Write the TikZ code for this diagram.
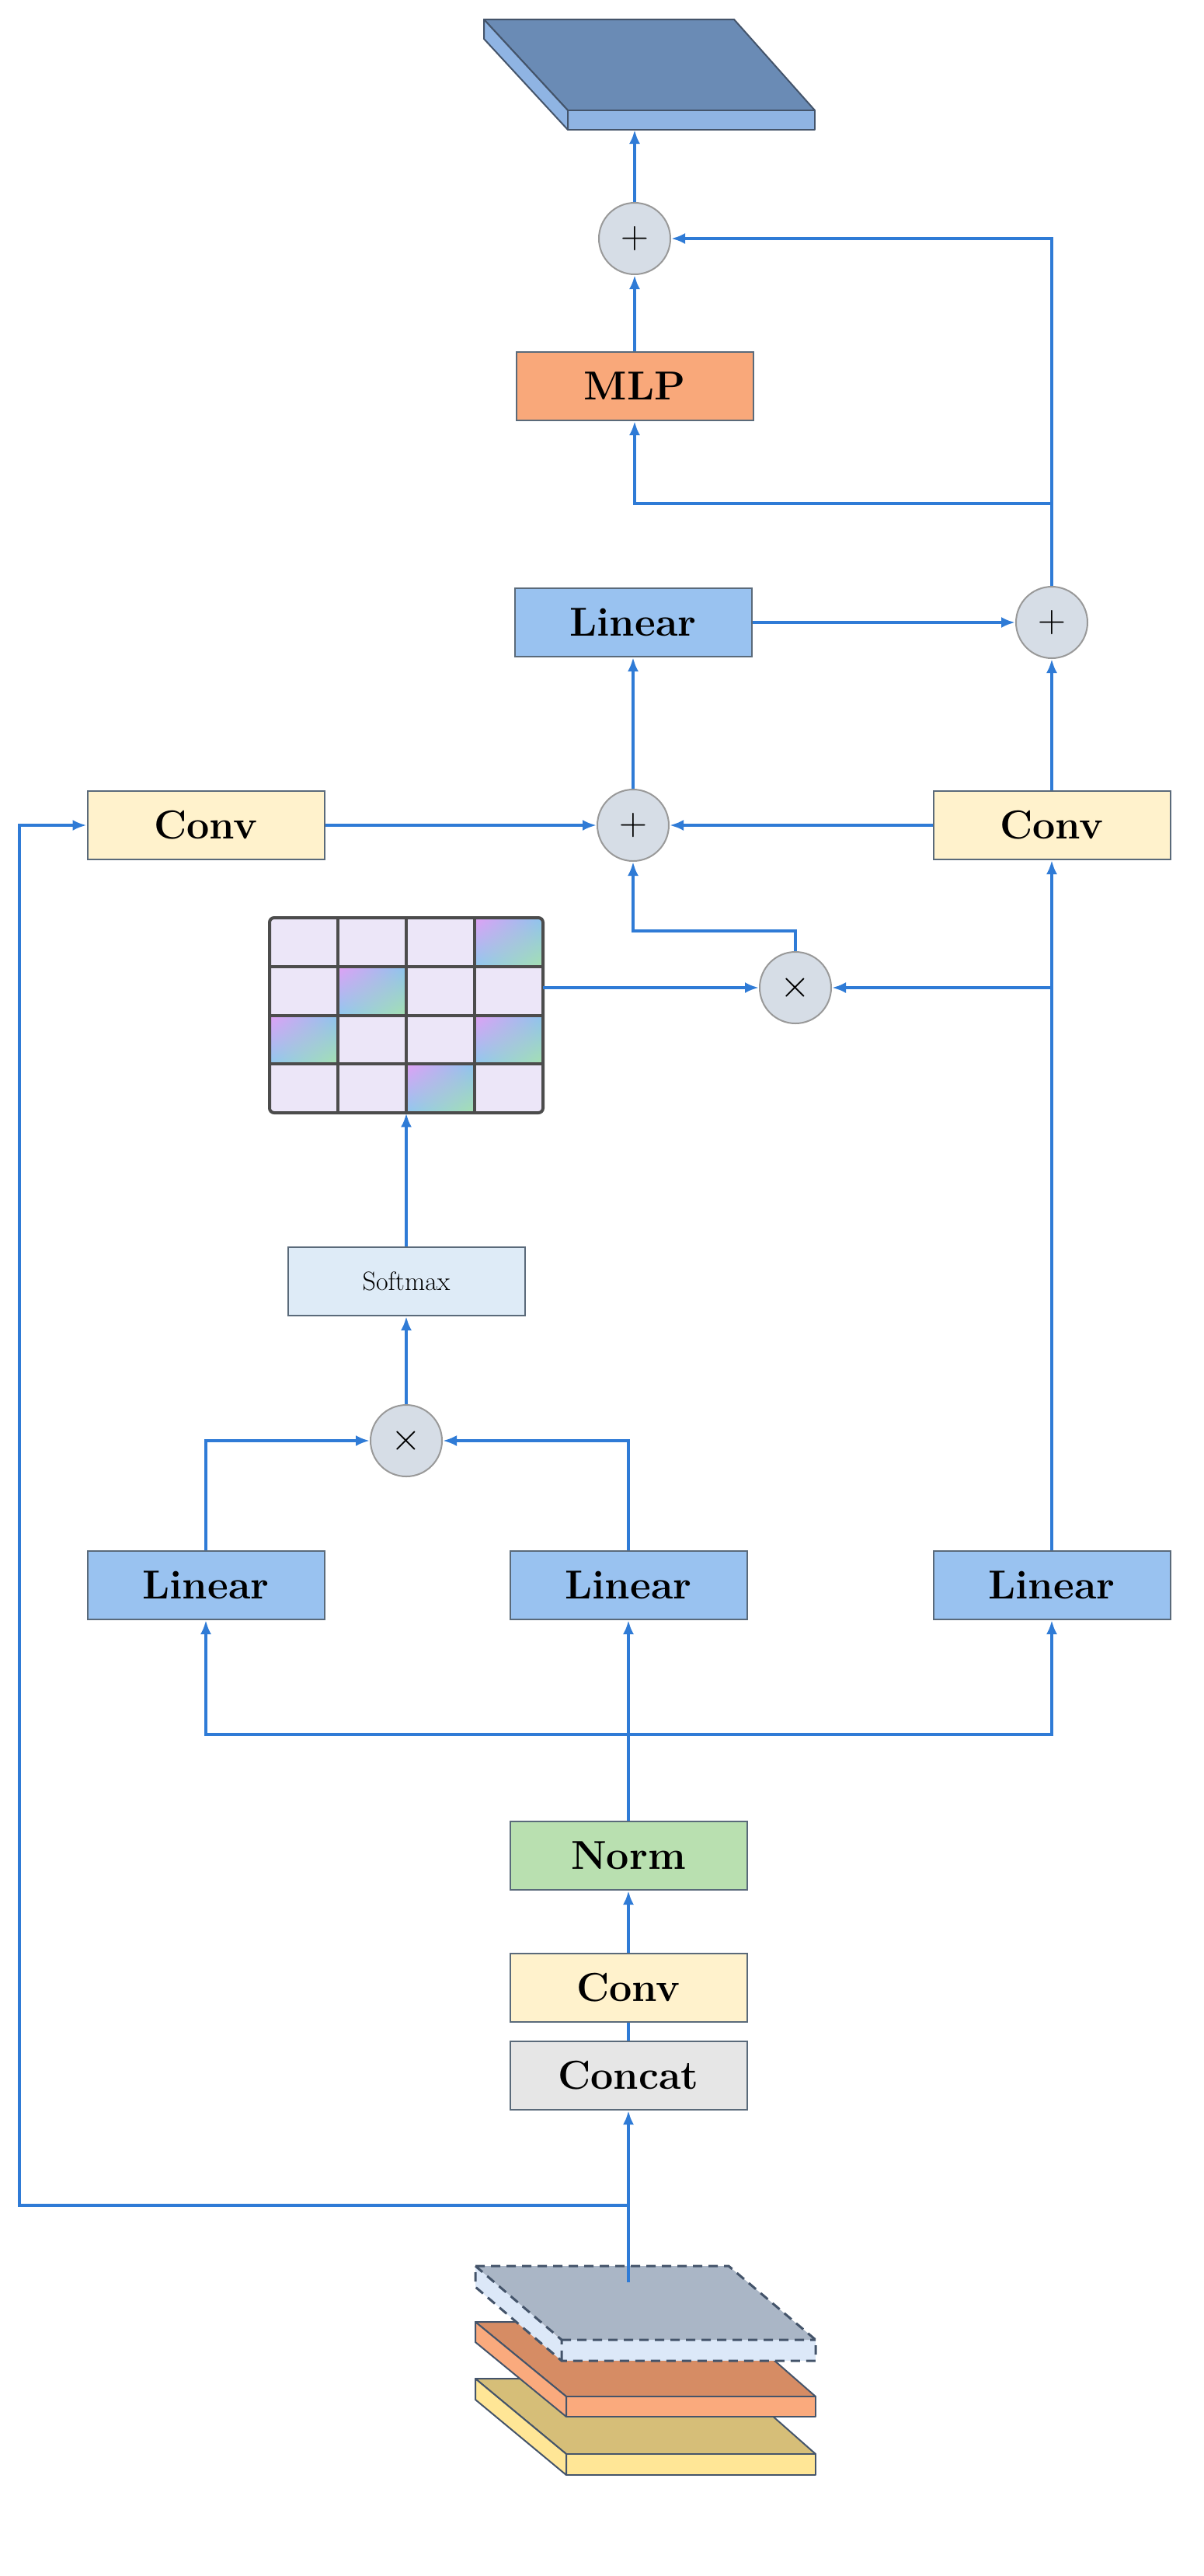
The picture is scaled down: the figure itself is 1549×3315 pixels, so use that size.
\documentclass[tikz,border=0pt]{standalone}
\usetikzlibrary{arrows.meta,shadings}
\begin{document}
\begin{tikzpicture}[x=0.5pt,y=-0.5pt,
  ln/.style={draw=lc,line width=2pt},
  ar/.style={ln,-{Latex[length=9pt,width=7pt]}},
  box/.style={draw=bd,line width=1pt,minimum width=152.5pt,minimum height=44pt,inner sep=0pt,font=\fontsize{26}{30}\selectfont\bfseries},
  op/.style={circle,draw=gray!80,line width=1pt,fill=cf,minimum size=46pt,inner sep=0pt},
  slab/.style={draw=sd,line width=1pt,line join=round}]
\definecolor{lc}{HTML}{2F7BD6}
\definecolor{bd}{HTML}{5A6A7A}
\definecolor{sd}{HTML}{44546A}
\definecolor{cf}{HTML}{D6DDE6}
\definecolor{blu}{HTML}{99C2F0}
\definecolor{mlp}{HTML}{F9A87A}
\definecolor{cnv}{HTML}{FFF2CC}
\definecolor{nrm}{HTML}{B9E0B0}
\definecolor{cat}{HTML}{E6E6E6}
\definecolor{smx}{HTML}{DEEBF7}
\definecolor{lgt}{HTML}{ECE6F8}
\definecolor{gul}{HTML}{E1A0F5}
\definecolor{gur}{HTML}{8CC4EE}
\definecolor{gll}{HTML}{8FC8F0}
\definecolor{glr}{HTML}{A6E0B0}
\useasboundingbox (0,0) rectangle (1549,3315);
% output slab
\path[slab,fill={rgb,255:red,106;green,139;blue,181}] (623,25)--(945,25)--(1049,142)--(731,142)--cycle;
\path[slab,fill={rgb,255:red,143;green,180;blue,227}] (731,142)--(1049,142)--(1049,167)--(731,167)--cycle;
\path[slab,fill={rgb,255:red,143;green,180;blue,227}] (623,25)--(731,142)--(731,167)--(623,50)--cycle;
\coordinate (out) at (817,167);
% nodes
\node[op] (p1) at (817,307) {\Huge$+$};
\node[box,fill=mlp] (mlp) at (817,497) {MLP};
\node[box,fill=blu] (lin4) at (815,801) {Linear};
\node[op] (p2) at (1354,801) {\Huge$+$};
\node[op] (p3) at (815,1062) {\Huge$+$};
\node[box,fill=cnv] (cl) at (265,1062) {Conv};
\node[box,fill=cnv] (cr) at (1354,1062) {Conv};
\node[op] (t1) at (1024,1271) {\Huge$\times$};
\node[box,fill=smx,font=\fontsize{17}{20}\selectfont] (sm) at (523,1649) {Softmax};
\node[op] (t2) at (523,1854) {\Huge$\times$};
\node[box,fill=blu] (l1) at (265,2040) {Linear};
\node[box,fill=blu] (l2) at (809,2040) {Linear};
\node[box,fill=blu] (l3) at (1354,2040) {Linear};
\node[box,fill=nrm] (norm) at (809,2388) {Norm};
\node[box,fill=cnv] (c0) at (809,2558) {Conv};
\node[box,fill=cat] (cc) at (809,2671) {Concat};
% matrix
\node[inner sep=0pt,minimum width=176pt,minimum height=125.5pt] (mat) at (523,1306.5) {};
\foreach \r in {0,...,3}{\foreach \c in {0,...,3}{
  \fill[lgt] (347+88*\c,1181+62.75*\r) rectangle ++(88,62.75);}}
\foreach \r/\c in {0/3,1/1,2/0,2/3,3/2}{
  \shade[upper left=gul,upper right=gur,lower left=gll,lower right=glr]
  (347+88*\c,1181+62.75*\r) rectangle ++(88,62.75);}
\foreach \i in {1,2,3}{
  \draw[gray!60!black,line width=2pt] (347+88*\i,1181) -- (347+88*\i,1432);
  \draw[gray!60!black,line width=2pt] (347,1181+62.75*\i) -- (699,1181+62.75*\i);}
\draw[gray!60!black,line width=2pt,rounded corners=3pt] (347,1181) rectangle (699,1432);
% input slabs
\path[slab,fill={rgb,255:red,214;green,190;blue,120}] (612,3061)--(940,3061)--(1050,3158)--(729,3158)--cycle;
\path[slab,fill={rgb,255:red,255;green,230;blue,150}] (729,3158)--(1050,3158)--(1050,3185)--(729,3185)--cycle;
\path[slab,fill={rgb,255:red,255;green,230;blue,150}] (612,3061)--(729,3158)--(729,3185)--(612,3088)--cycle;
\path[slab,fill={rgb,255:red,214;green,140;blue,100}] (612,2988)--(940,2988)--(1050,3084)--(729,3084)--cycle;
\path[slab,fill={rgb,255:red,250;green,170;blue,125}] (729,3084)--(1050,3084)--(1050,3110)--(729,3110)--cycle;
\path[slab,fill={rgb,255:red,250;green,170;blue,125}] (612,2988)--(729,3084)--(729,3110)--(612,3014)--cycle;
\path[fill={rgb,255:red,220;green,232;blue,248}] (723,3011)--(1050,3011)--(1050,3038)--(723,3038)--cycle;
\path[fill={rgb,255:red,220;green,232;blue,248}] (612,2916)--(723,3011)--(723,3038)--(612,2943)--cycle;
\path[fill={rgb,255:red,170;green,182;blue,198}] (612,2916)--(938,2916)--(1050,3011)--(723,3011)--cycle;
\draw[sd,line width=1.5pt,dash pattern=on 6pt off 4pt] (612,2916)--(938,2916)--(1050,3011)--(1050,3038)--(723,3038)--(612,2943)--cycle (723,3011)--(1050,3011) (612,2916)--(723,3011)--(723,3038);
\coordinate (in) at (809,2937);
\coordinate (sp) at (809,2838);
% connectors
\draw[ar] (p1) -- (out);
\draw[ar] (mlp) -- (p1);
\draw[ar] (p2.north) |- (p1);
\coordinate (j1) at (1354,648);
\draw[ar] (j1) -| (mlp);
\draw[ar] (lin4) -- (p2);
\draw[ar] (p3) -- (lin4);
\draw[ar] (cr) -- (p2);
\draw[ar] (cl) -- (p3);
\draw[ar] (cr) -- (p3);
\draw[ar] (t1.north) |- (815,1198) -- (p3);
\draw[ar] (mat.east |- t1) -- (t1);
\draw[ar] (l3.north) -- (cr);
\draw[ar] (1354,1271) -- (t1);
\draw[ar] (sm) -- (mat);
\draw[ar] (t2) -- (sm);
\draw[ar] (l1.north) |- (t2);
\draw[ar] (l2.north) |- (t2);
\coordinate (bus) at (809,2232);
\draw[ar] (bus) -| (l1);
\draw[ar] (bus) -| (l3);
\draw[ar] (norm) -- (l2);
\draw[ar] (c0) -- (norm);
\draw[ln] (cc) -- (c0);
\draw[ar] (in) -- (cc);
\draw[ar] (sp) -| (25,1062) -- (cl);
\end{tikzpicture}
\end{document}
